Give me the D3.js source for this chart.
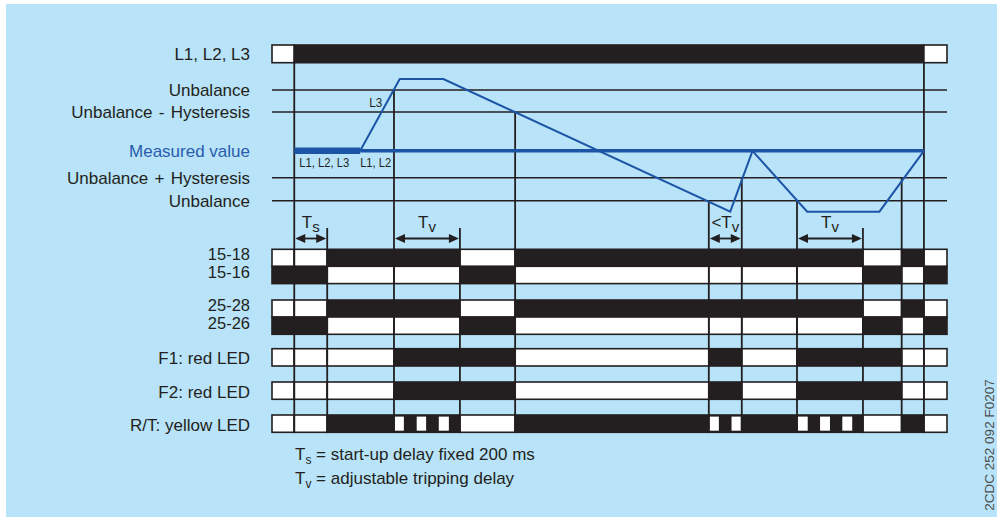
<!DOCTYPE html>
<html>
<head>
<meta charset="utf-8">
<script src="https://cdn.jsdelivr.net/npm/d3@7"></script>
<style>
body { margin: 0; background: #fff; }
svg { display: block; }
text { font-family: "Liberation Sans", Arial, Helvetica, sans-serif; fill: #231f20; }
</style>
</head>
<body>
<svg id="chart"></svg>
<script>
// time in ms, 0 = supply switched on
const segmentBounds = [-135, 0, 200, 605, 1005, 1340, 2515, 2715, 3050, 3450, 3685, 3820, 3960];
const supplyBounds = [-135, 0, 3820, 3960];
const supplyStates = [0, 1, 0];

// threshold levels (unbalance, arbitrary units, measured value = 0)
const levelLabels = ['Unbalance', 'Unbalance - Hysteresis', 'Unbalance + Hysteresis', 'Unbalance'];
const levelValues = [6.1, 3.9, -2.7, -5.0];
const measuredValue = 0;

// measured value curve
const curveTimes = [400, 640, 905, 2645, 2780, 3112, 3550, 3820];
const curveValues = [0, 7.2, 7.2, -6.1, 0, -6.1, -6.1, 0];
const allPhasesUntil = 400;

// contact / LED states per segment: 0 = off (white), 1 = on (black), 2 = flashing
const rowLabels = ['15-18', '15-16', '25-28', '25-26', 'F1: red LED', 'F2: red LED', 'R/T: yellow LED'];
const contact1518 = [0, 0, 1, 1, 0, 1, 1, 1, 1, 0, 1, 0];
const contact1516 = [1, 1, 0, 0, 1, 0, 0, 0, 0, 1, 0, 1];
const contact2528 = [0, 0, 1, 1, 0, 1, 1, 1, 1, 0, 1, 0];
const contact2526 = [1, 1, 0, 0, 1, 0, 0, 0, 0, 1, 0, 1];
const ledF1 = [0, 0, 0, 1, 1, 0, 1, 0, 1, 1, 0, 0];
const ledF2 = [0, 0, 0, 1, 1, 0, 1, 0, 1, 1, 0, 0];
const ledRT = [0, 0, 1, 2, 0, 1, 2, 1, 2, 0, 1, 0];
const flashOn = [[605, 665], [738, 800], [872, 938], [2515, 2576], [2648, 2709], [3050, 3115], [3185, 3250], [3320, 3385]];

// vertical event lines: where each one starts
const eventTimes = [0, 200, 605, 1005, 1340, 2515, 2715, 3050, 3450, 3685, 3820];
const eventStarts = ['supply', 'delay', 6.1, 'delay', 3.9, -5.0, -2.7, -5.0, 'delay', -2.7, 'supply'];

// delay arrows
const delayFrom = [0, 605, 2515, 3050];
const delayTo = [200, 1005, 2715, 3450];
const delayPrefix = ['', '', '<', ''];
const delaySub = ['s', 'v', 'v', 'v'];

class TimingChart {

    constructor(config) {
        this.config = {
            parent: config.parent,
            width: config.width || 997,
            height: config.height || 517,
            left: 272,
            right: 947
        };
        this.init();
    }

    init() {
        let self = this;

        self.svg = d3.select(self.config.parent)
            .attr('width', self.config.width)
            .attr('height', self.config.height);

        self.svg.append('rect')
            .attr('x', 6).attr('y', 4)
            .attr('width', self.config.width - 6)
            .attr('height', self.config.height - 4)
            .attr('fill', '#b8e3f8');

        self.xscale = d3.scaleLinear()
            .domain([segmentBounds[0], segmentBounds[segmentBounds.length - 1]])
            .range([self.config.left, self.config.right]);

        self.yscale = d3.scaleLinear()
            .domain([-6.1, 7.2])
            .range([211.7, 79]);

        self.barTop = 45;
        self.barH = 17.7;
        self.rowTops = [249.3, 266.3, 300, 317, 348.7, 382, 415];
        self.rowH = 17.3;
        self.arrowY = 238.5;
        self.tickTop = 228;
        self.ink = '#231f20';
        self.blue = '#1c55a6';
    }

    render() {
        let self = this;
        const x = self.xscale, y = self.yscale;
        const bottom = self.rowTops[self.rowTops.length - 1] + self.rowH;

        // level lines
        self.svg.append('g').selectAll('line')
            .data(levelValues)
            .join('line')
            .attr('x1', self.config.left)
            .attr('x2', self.config.right)
            .attr('y1', d => y(d))
            .attr('y2', d => y(d))
            .attr('stroke', self.ink)
            .attr('stroke-width', 1.5);

        self.svg.append('g').selectAll('text')
            .data(levelValues)
            .join('text')
            .attr('x', 250)
            .attr('y', d => y(d) + 6)
            .attr('text-anchor', 'end')
            .style('font-size', '17px')
            .style('word-spacing', '1.5px')
            .text((d, i) => levelLabels[i]);

        self.svg.append('text')
            .attr('x', 250)
            .attr('y', y(measuredValue) + 6)
            .attr('text-anchor', 'end')
            .style('font-size', '17px')
            .style('fill', '#2a5cae')
            .text('Measured value');

        // supply bar
        const supply = supplyStates.map((s, i) => ({ t0: supplyBounds[i], t1: supplyBounds[i + 1], s: s }));
        self.svg.append('g').selectAll('rect')
            .data(supply)
            .join('rect')
            .attr('x', d => x(d.t0))
            .attr('y', self.barTop)
            .attr('width', d => x(d.t1) - x(d.t0))
            .attr('height', self.barH)
            .attr('fill', d => d.s ? self.ink : '#fff')
            .attr('stroke', self.ink)
            .attr('stroke-width', 1.6);

        self.svg.append('text')
            .attr('x', 250)
            .attr('y', self.barTop + self.barH / 2 + 6)
            .attr('text-anchor', 'end')
            .style('font-size', '17px')
            .text('L1, L2, L3');

        // state rows
        const rows = [contact1518, contact1516, contact2528, contact2526, ledF1, ledF2, ledRT];
        rows.forEach((states, r) => {
            const top = self.rowTops[r];
            const cells = states.map((s, i) => ({ t0: segmentBounds[i], t1: segmentBounds[i + 1], s: s }));
            const g = self.svg.append('g');
            g.selectAll('rect')
                .data(cells)
                .join('rect')
                .attr('x', d => x(d.t0))
                .attr('y', top)
                .attr('width', d => x(d.t1) - x(d.t0))
                .attr('height', self.rowH)
                .attr('fill', d => d.s === 0 ? '#fff' : self.ink)
                .attr('stroke', self.ink)
                .attr('stroke-width', 1.6);

            if (states.includes(2)) {
                g.selectAll('rect.flash')
                    .data(flashOn)
                    .join('rect')
                    .attr('class', 'flash')
                    .attr('x', d => x(d[0]) + 0.8)
                    .attr('y', top + 1.6)
                    .attr('width', d => x(d[1]) - x(d[0]) - 0.8)
                    .attr('height', self.rowH - 3.2)
                    .attr('fill', '#fff');
            }

            // label placement: paired rows lean towards each other
            let ly, fs = '17px';
            if (r < 4) {
                ly = (r % 2 === 0) ? top + self.rowH - 6.5 : top + 11.5;
                fs = '16.5px';
            } else {
                ly = top + self.rowH / 2 + 7;
            }
            self.svg.append('text')
                .attr('x', 250)
                .attr('y', ly)
                .attr('text-anchor', 'end')
                .style('font-size', fs)
                .text(rowLabels[r]);
        });

        // event lines
        self.svg.append('g').selectAll('line')
            .data(eventTimes)
            .join('line')
            .attr('x1', d => x(d))
            .attr('x2', d => x(d))
            .attr('y1', (d, i) => {
                const s = eventStarts[i];
                if (s === 'supply') return self.barTop + self.barH;
                if (s === 'delay') return self.tickTop;
                return y(s);
            })
            .attr('y2', bottom)
            .attr('stroke', self.ink)
            .attr('stroke-width', 1.8);

        // delay arrows
        const delays = delayFrom.map((d, i) => ({ a: x(d), b: x(delayTo[i]), pre: delayPrefix[i], sub: delaySub[i] }));
        const ag = self.svg.append('g');
        ag.selectAll('line')
            .data(delays)
            .join('line')
            .attr('x1', d => d.a + 4)
            .attr('x2', d => d.b - 4)
            .attr('y1', self.arrowY)
            .attr('y2', self.arrowY)
            .attr('stroke', self.ink)
            .attr('stroke-width', 1.8);
        ag.selectAll('path')
            .data(delays)
            .join('path')
            .attr('d', d => {
                const hy = self.arrowY, l = 10, w = 4.5;
                return `M${d.a + 1},${hy} L${d.a + 1 + l},${hy - w} L${d.a + 1 + l},${hy + w} Z` +
                    `M${d.b - 1},${hy} L${d.b - 1 - l},${hy - w} L${d.b - 1 - l},${hy + w} Z`;
            })
            .attr('fill', self.ink);

        const lbl = ag.selectAll('text')
            .data(delays)
            .join('text')
            .attr('x', d => (d.a + d.b) / 2)
            .attr('y', self.tickTop)
            .attr('text-anchor', 'middle')
            .style('font-size', '17px');
        lbl.append('tspan').text(d => d.pre + 'T');
        lbl.append('tspan')
            .attr('dy', 3.5)
            .style('font-size', '15px')
            .text(d => d.sub);

        // measured value
        self.svg.append('line')
            .attr('x1', x(0)).attr('x2', x(allPhasesUntil))
            .attr('y1', y(measuredValue)).attr('y2', y(measuredValue))
            .attr('stroke', self.blue)
            .attr('stroke-width', 6.5);
        self.svg.append('line')
            .attr('x1', x(allPhasesUntil)).attr('x2', x(curveTimes[curveTimes.length - 1]))
            .attr('y1', y(measuredValue)).attr('y2', y(measuredValue))
            .attr('stroke', self.blue)
            .attr('stroke-width', 3.5);

        const line = d3.line()
            .x(d => x(d[0]))
            .y(d => y(d[1]));
        self.svg.append('path')
            .attr('d', line(curveTimes.map((t, i) => [t, curveValues[i]])))
            .attr('fill', 'none')
            .attr('stroke', self.blue)
            .attr('stroke-width', 2)
            .attr('stroke-linejoin', 'miter');

        // narrow phase labels
        const smallText = (tx, ty, anchor, s, len) => {
            self.svg.append('text')
                .attr('x', tx).attr('y', ty)
                .attr('text-anchor', anchor)
                .attr('textLength', len)
                .attr('lengthAdjust', 'spacingAndGlyphs')
                .style('font-size', '13px')
                .text(s);
        };
        smallText(x(0) + 5, y(measuredValue) + 16, 'start', 'L1, L2, L3', 50);
        smallText(x(allPhasesUntil), y(measuredValue) + 16, 'start', 'L1, L2', 31);
        smallText(x(allPhasesUntil) + 22, y(4.4), 'end', 'L3', 13);

        // footnotes
        const f1 = self.svg.append('text').attr('x', 295).attr('y', 459.5).style('font-size', '17px');
        f1.append('tspan').text('T');
        f1.append('tspan').attr('dy', 4).style('font-size', '12px').text('s');
        f1.append('tspan').attr('dy', -4).text(' = start-up delay fixed 200 ms');
        const f2 = self.svg.append('text').attr('x', 295).attr('y', 483.5).style('font-size', '17px');
        f2.append('tspan').text('T');
        f2.append('tspan').attr('dy', 4).style('font-size', '12px').text('v');
        f2.append('tspan').attr('dy', -4).text(' = adjustable tripping delay');

        self.svg.append('text')
            .attr('transform', 'translate(994, 445) rotate(-90)')
            .attr('text-anchor', 'middle')
            .style('font-size', '13.5px')
            .style('fill', '#4d4d4d')
            .text('2CDC 252 092 F0207');
    }
}

const chart = new TimingChart({ parent: '#chart', width: 997, height: 517 });
chart.render();
</script>
</body>
</html>
